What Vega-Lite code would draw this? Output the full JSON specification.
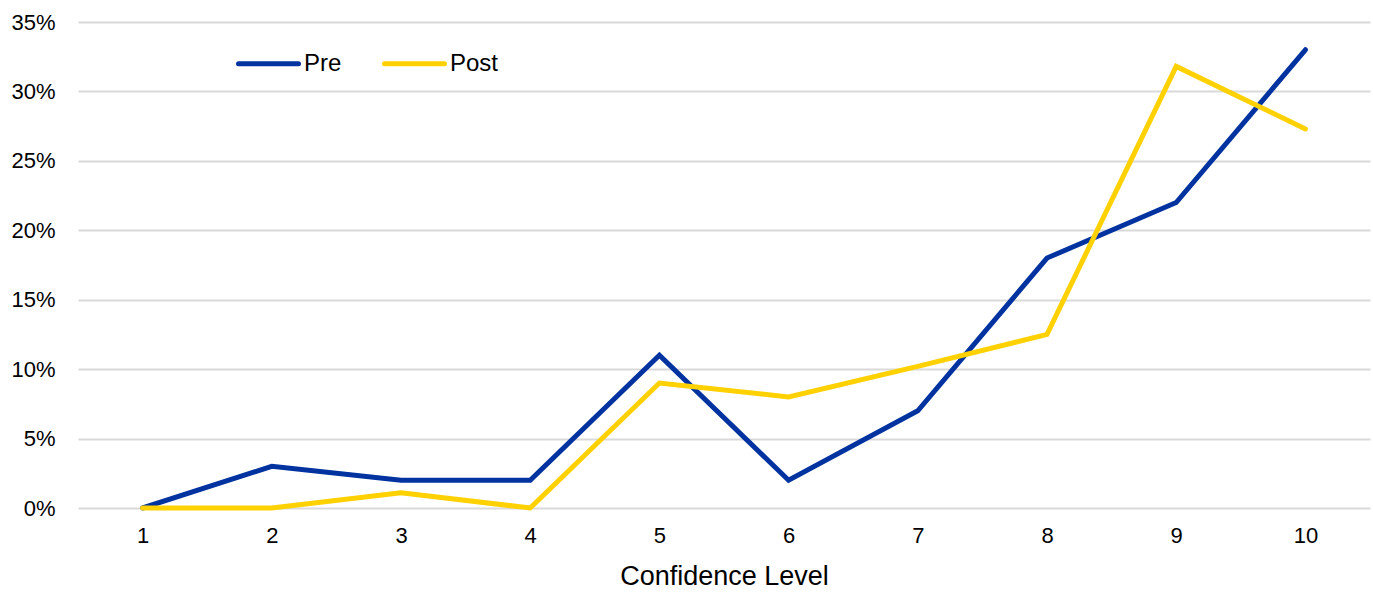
{
  "$schema": "https://vega.github.io/schema/vega-lite/v6.json",
  "autosize": "none",
  "padding": {"left": 78, "top": 22, "right": 3, "bottom": 84},
  "width": 1292,
  "height": 486,
  "background": "white",
  "config": {
    "view": {"stroke": null},
    "font": "Liberation Sans"
  },
  "data": {
    "values": [
      {"level": "1", "series": "Pre", "value": 0.0},
      {"level": "2", "series": "Pre", "value": 0.03},
      {"level": "3", "series": "Pre", "value": 0.02},
      {"level": "4", "series": "Pre", "value": 0.02},
      {"level": "5", "series": "Pre", "value": 0.11},
      {"level": "6", "series": "Pre", "value": 0.02},
      {"level": "7", "series": "Pre", "value": 0.07},
      {"level": "8", "series": "Pre", "value": 0.18},
      {"level": "9", "series": "Pre", "value": 0.22},
      {"level": "10", "series": "Pre", "value": 0.33},
      {"level": "1", "series": "Post", "value": 0.0},
      {"level": "2", "series": "Post", "value": 0.0},
      {"level": "3", "series": "Post", "value": 0.011},
      {"level": "4", "series": "Post", "value": 0.0},
      {"level": "5", "series": "Post", "value": 0.09},
      {"level": "6", "series": "Post", "value": 0.08},
      {"level": "7", "series": "Post", "value": 0.102},
      {"level": "8", "series": "Post", "value": 0.125},
      {"level": "9", "series": "Post", "value": 0.318},
      {"level": "10", "series": "Post", "value": 0.273}
    ]
  },
  "mark": {"type": "line", "strokeWidth": 5, "strokeCap": "round", "strokeJoin": "miter"},
  "encoding": {
    "x": {
      "field": "level",
      "type": "ordinal",
      "sort": ["1","2","3","4","5","6","7","8","9","10"],
      "scale": {"type": "point", "padding": 0.5},
      "axis": {
        "title": "Confidence Level",
        "titleFontSize": 27,
        "titleFontWeight": "normal",
        "titleColor": "#000000",
        "titlePadding": 17,
        "labelAngle": 0,
        "labelFontSize": 22,
        "labelColor": "#000000",
        "labelPadding": 17,
        "ticks": false,
        "domain": false,
        "grid": false
      }
    },
    "y": {
      "field": "value",
      "type": "quantitative",
      "scale": {"domain": [0, 0.35]},
      "axis": {
        "title": null,
        "format": ".0%",
        "values": [0, 0.05, 0.1, 0.15, 0.2, 0.25, 0.3, 0.35],
        "labelFontSize": 22,
        "labelColor": "#000000",
        "labelPadding": 23,
        "ticks": false,
        "domain": false,
        "grid": true,
        "gridColor": "#d9d9d9",
        "gridWidth": 2
      }
    },
    "color": {
      "field": "series",
      "type": "nominal",
      "scale": {"domain": ["Pre", "Post"], "range": ["#0033a0", "#ffd100"]},
      "legend": {
        "title": null,
        "orient": "none",
        "legendX": 158,
        "legendY": 9,
        "direction": "horizontal",
        "symbolType": "stroke",
        "symbolSize": 3600,
        "symbolStrokeWidth": 5,
        "labelFontSize": 24,
        "labelColor": "#000000",
        "labelOffset": 3,
        "columnPadding": 32,
        "encode": {"symbols": {"update": {"strokeCap": {"value": "round"}}}}
      }
    }
  }
}
